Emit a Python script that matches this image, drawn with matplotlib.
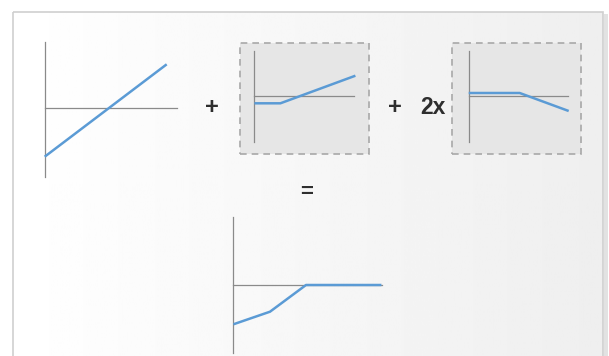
"""Payoff diagrams: stock + option + 2x option = combined position."""

import matplotlib.pyplot as plt
import numpy as np
from matplotlib.patches import Rectangle

W, H = 609, 356

# payoff lines, one unit = 10 px, origin where the axes cross
stock_x = [0, 12.2]
stock_y = [-4.84, 4.4]
leg2_x = [0, 2.6, 10.1]
leg2_y = [-0.7, -0.7, 2.06]
leg3_x = [0, 5.1, 10.0]
leg3_y = [0.33, 0.33, -1.47]
total_x = [0, 3.66, 7.26, 14.8]
total_y = [-3.93, -2.67, 0, 0]

LINE = "#5b9bd5"
AXIS = "#8a8a8a"
TEXT = "#2e2e2e"

fig = plt.figure(figsize=(W / 100, H / 100), dpi=100)

# background with the grey gradient card
bg = fig.add_axes([0, 0, 1, 1])
bg.set_xlim(0, W)
bg.set_ylim(H, 0)
bg.axis("off")
grad = np.linspace(1.0, 0.935, 256).reshape(1, -1)
bg.imshow(grad, cmap="gray", vmin=0, vmax=1, extent=[13, 603, H + 2, 12],
          aspect="auto", zorder=0)
bg.add_patch(Rectangle((604, 14), 4, H, color="#e2e2e2", lw=0, zorder=0))
bg.add_patch(Rectangle((13, 12), 590, H, fill=False, ec="#cfcfcf", lw=1.2,
                       zorder=1))


def panel(ox, oy, xs, ys, xmax, ytop, ybot, box=None):
    """Axes with 10 px per unit, origin at pixel (ox, oy)."""
    x0, x1 = -2.0, xmax + 2.0
    y0, y1 = -ybot - 2.0, ytop + 2.0
    left = (ox + x0 * 10) / W
    bottom = (H - oy + y0 * 10) / H
    ax = fig.add_axes([left, bottom, (x1 - x0) * 10 / W, (y1 - y0) * 10 / H])
    ax.set_xlim(x0, x1)
    ax.set_ylim(y0, y1)
    ax.axis("off")
    if box is not None:
        bx0, bx1, by0, by1 = box
        ax.add_patch(Rectangle((bx0, by0), bx1 - bx0, by1 - by0,
                               fc="#e6e6e6", ec="#a8a8a8", lw=1.2,
                               ls=(0, (4, 3)), zorder=0, clip_on=False))
    ax.plot([0, xmax], [0, 0], color=AXIS, lw=0.9, zorder=1)
    ax.plot([0, 0], [-ybot, ytop], color=AXIS, lw=0.9, zorder=1)
    ax.plot(xs, ys, color=LINE, lw=1.8, zorder=2, solid_capstyle="butt")
    return ax


panel(44.7, 108.3, stock_x, stock_y, 13.2, 6.66, 6.84)
panel(254.4, 96.3, leg2_x, leg2_y, 10.0, 4.53, 4.54,
      box=(-1.48, 11.46, -5.77, 5.3))
panel(468.7, 96.3, leg3_x, leg3_y, 9.9, 4.53, 4.54,
      box=(-1.7, 11.27, -5.77, 5.3))
panel(233.4, 285, total_x, total_y, 14.9, 6.77, 6.77)

font = dict(family="Liberation Sans", weight="bold", color=TEXT,
            ha="center", va="center")
bg.text(212.4, 107, "+", fontsize=17, **font)
bg.text(395, 107, "+", fontsize=17, **font)
bg.text(432.5, 107.5, "2x", fontsize=16.5, **font)
bg.text(306.8, 193, "=", fontsize=16, **font)

plt.savefig("out.png", dpi=100)
